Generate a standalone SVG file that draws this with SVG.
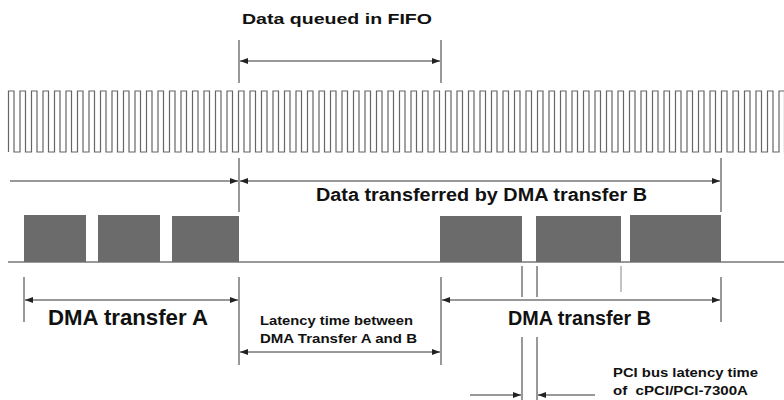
<svg xmlns="http://www.w3.org/2000/svg" width="784" height="400" viewBox="0 0 784 400">
<style>
.ln{stroke:#333;stroke-width:1;fill:none}
.lt{stroke:#888;stroke-width:1;fill:none}
.ar{stroke:#333;stroke-width:1;fill:none;marker-end:url(#ah)}
.ar2{stroke:#333;stroke-width:1;fill:none;marker-end:url(#ah);marker-start:url(#ah)}
.blk{fill:#6b6b6b}
.t{font-family:"Liberation Sans",Arial,sans-serif;font-weight:bold;fill:#111;white-space:pre}
</style>
<defs>
<marker id="ah" markerUnits="userSpaceOnUse" markerWidth="8" markerHeight="6" refX="8" refY="3" orient="auto-start-reverse">
<path d="M0,0 L8,3 L0,6 z" fill="#222"/>
</marker>
</defs>
<rect width="784" height="400" fill="#fff"/>
<g id="clock">
<path d="M8.5 152 V91 h5.5v61h6v-61h5.5v61h6v-61h5.5v61h6v-61h5.5v61h6v-61h5.5v61h6v-61h5.5v61h6v-61h5.5v61h6v-61h5.5v61h6v-61h5.5v61h6v-61h5.5v61h6v-61h5.5v61h6v-61h5.5v61h6v-61h5.5v61h6v-61h5.5v61h6v-61h5.5v61h6v-61h5.5v61h6v-61h5.5v61h6v-61h5.5v61h6v-61h5.5v61h6v-61h5.5v61h6v-61h5.5v61h6v-61h5.5v61h6v-61h5.5v61h6v-61h5.5v61h6v-61h5.5v61h6v-61h5.5v61h6v-61h5.5v61h6v-61h5.5v61h6v-61h5.5v61h6v-61h5.5v61h6v-61h5.5v61h6v-61h5.5v61h6v-61h5.5v61h6v-61h5.5v61h6v-61h5.5v61h6v-61h5.5v61h6v-61h5.5v61h6v-61h5.5v61h6v-61h5.5v61h6v-61h5.5v61h6v-61h5.5v61h6v-61h5.5v61h6v-61h5.5v61h6v-61h5.5v61h6v-61h5.5v61h6v-61h5.5v61h6v-61h5.5v61h6v-61h5.5v61h6v-61h5.5v61h6v-61h5.5v61h6v-61h5.5v61h6v-61h5.5v61h6v-61h5.5v61h6v-61h5.5v61h6v-61h5.5v61h6v-61h5.5v61h6v-61h5.5v61h6v-61h5.5v61h6v-61h5.5v61h6v-61h5.5v61h6v-61h5.5v61h6v-61h5.5v61h6v-61h5.5v61h6v-61h5.5v61h6v-61h5.5v61h6v-61h5.5v61h6v-61h5.5v61h6v-61h5.5v61h6v-61h5.5v61h6v-61h5.5v61h6v-61h5.5v61h6v-61" stroke="#666" stroke-width="1.2" fill="none"/>
</g>
<g id="bus">
<line class="ln" x1="8" y1="262" x2="784" y2="262" stroke="#555"/>
<rect class="blk" x="24" y="215" width="62" height="47"/>
<rect class="blk" x="98" y="215" width="62" height="47"/>
<rect class="blk" x="172" y="216" width="67" height="46"/>
<rect class="blk" x="440" y="216" width="82" height="46"/>
<rect class="blk" x="536" y="216" width="85" height="46"/>
<rect class="blk" x="630" y="215" width="91" height="47"/>
</g>
<g id="connectors">
<line class="ln" x1="239" y1="40" x2="239" y2="83"/>
<line class="ln" x1="441" y1="40" x2="441" y2="83"/>
<line class="ar2" x1="240" y1="61" x2="440" y2="61"/>
<line class="ln" x1="239" y1="158" x2="239" y2="212"/>
<line class="ln" x1="721" y1="158" x2="721" y2="212"/>
<line class="ar" x1="10" y1="181" x2="238" y2="181"/>
<line class="ar2" x1="240" y1="181" x2="720" y2="181"/>
<line class="ln" x1="24" y1="277" x2="24" y2="322"/>
<line class="ln" x1="239" y1="277" x2="239" y2="365"/>
<line class="ln" x1="441" y1="277" x2="441" y2="365"/>
<line class="ln" x1="721" y1="277" x2="721" y2="322"/>
<line class="ar2" x1="25" y1="300" x2="238" y2="300"/>
<line class="ar2" x1="442" y1="300" x2="720" y2="300"/>
<line class="ar2" x1="240" y1="352" x2="440" y2="352"/>
<line class="ln" x1="522" y1="266" x2="522" y2="297"/>
<line class="ln" x1="537" y1="266" x2="537" y2="297" stroke-width="1.5"/>
<line class="ln" x1="522" y1="337" x2="522" y2="400"/>
<line class="ln" x1="537" y1="337" x2="537" y2="400" stroke-width="1.5"/>
<line class="lt" x1="621" y1="266" x2="621" y2="292"/>
<line class="ar" x1="470" y1="395" x2="521" y2="395"/>
<line class="ar" x1="595" y1="395" x2="538" y2="395"/>
</g>
<g id="labels">
<text class="t" x="242" y="24" font-size="15" textLength="190" lengthAdjust="spacingAndGlyphs">Data queued in FIFO</text>
<text class="t" x="316" y="201" font-size="18" textLength="331" lengthAdjust="spacingAndGlyphs">Data transferred by DMA transfer B</text>
<text class="t" x="48" y="325" font-size="22" textLength="160" lengthAdjust="spacingAndGlyphs">DMA transfer A</text>
<text class="t" x="508" y="325" font-size="20" textLength="143" lengthAdjust="spacingAndGlyphs">DMA transfer B</text>
<text class="t" x="260" y="325" font-size="13" textLength="153" lengthAdjust="spacingAndGlyphs">Latency time between</text>
<text class="t" x="260" y="343" font-size="13" textLength="157" lengthAdjust="spacingAndGlyphs">DMA Transfer A and B</text>
<text class="t" x="613" y="377" font-size="12" textLength="145" lengthAdjust="spacingAndGlyphs">PCI bus latency time</text>
<text class="t" x="613" y="395" font-size="12" textLength="135" lengthAdjust="spacingAndGlyphs">of  cPCI/PCI-7300A</text>
</g>
</svg>
